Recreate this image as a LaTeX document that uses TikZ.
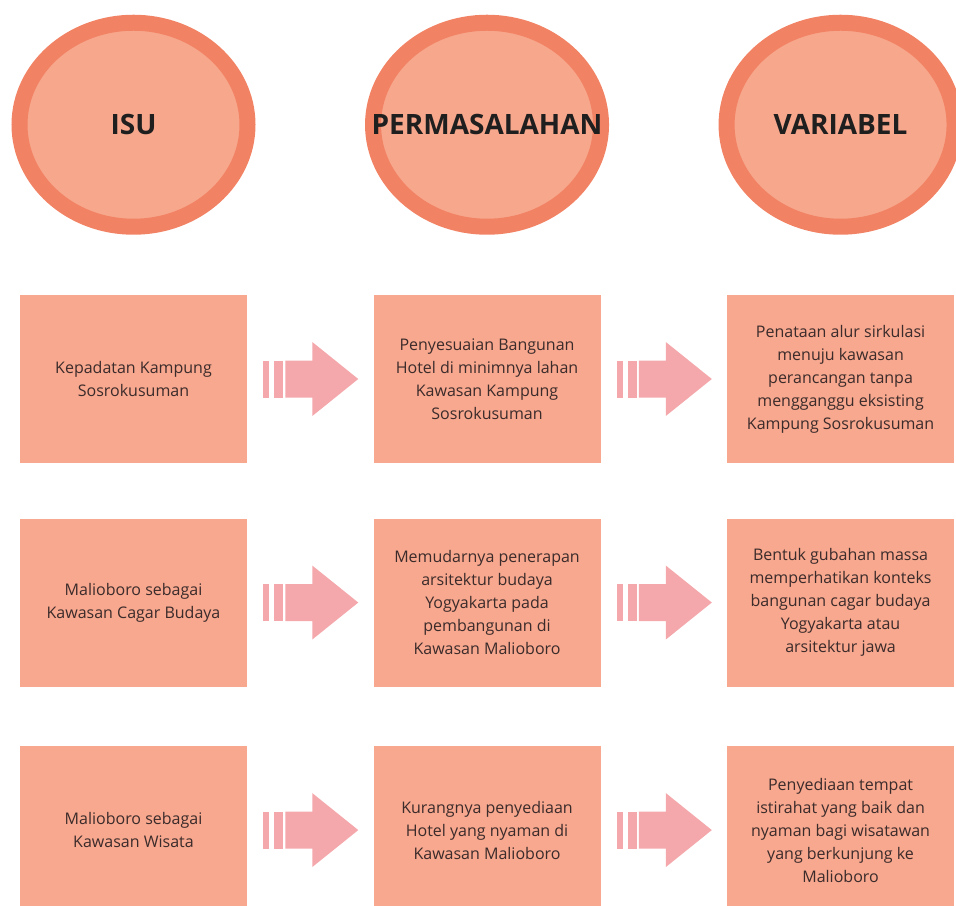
\documentclass[tikz,border=0pt]{standalone}
\usepackage{fontspec}
\setmainfont{Open Sans}
\usepackage{tikz}
\usetikzlibrary{shapes.geometric, positioning}

\definecolor{ringc}{HTML}{F28264}
\definecolor{innerc}{HTML}{F7A78C}
\definecolor{boxc}{HTML}{F7A88E}
\definecolor{arrowc}{HTML}{F4A8AB}
\definecolor{textc}{HTML}{3B2B2B}

\begin{document}
\begin{tikzpicture}[
    x=0.75pt, y=0.75pt,
    node distance=94.5pt,
    circ/.style={ellipse, draw=ringc, line width=12pt, fill=innerc, minimum width=171pt, minimum height=153pt, inner sep=0pt},
    title/.style={font=\fontsize{21}{25}\selectfont\bfseries, text=black!88, inner sep=0pt},
    block/.style={rectangle, fill=boxc, minimum width=170.25pt, minimum height=126pt, inner sep=0pt, align=center, text=textc, font=\fontsize{12}{17.25}\selectfont},
    flow/.style={fill=arrowc},
]
    \useasboundingbox (0,0) rectangle (956,-906);

    \node[block] (isu1) at (133.5,-379) {Kepadatan Kampung\\Sosrokusuman};
    \node[block, right=of isu1] (perm1) {Penyesuaian Bangunan\\Hotel di minimnya lahan\\Kawasan Kampung\\Sosrokusuman};
    \node[block, right=of perm1] (var1) {Penataan alur sirkulasi\\menuju kawasan\\perancangan tanpa\\mengganggu eksisting\\Kampung Sosrokusuman};

    \node[block, below=41.25pt of isu1] (isu2) {Malioboro sebagai\\Kawasan Cagar Budaya};
    \node[block, right=of isu2] (perm2) {Memudarnya penerapan\\arsitektur budaya\\Yogyakarta pada\\pembangunan di\\Kawasan Malioboro};
    \node[block, right=of perm2] (var2) {Bentuk gubahan massa\\memperhatikan konteks\\bangunan cagar budaya\\Yogyakarta atau\\arsitektur jawa};

    \node[block, below=44.25pt of isu2] (isu3) {Malioboro sebagai\\Kawasan Wisata};
    \node[block, right=of isu3] (perm3) {Kurangnya penyediaan\\Hotel yang nyaman di\\Kawasan Malioboro};
    \node[block, right=of perm3] (var3) {Penyediaan tempat\\istirahat yang baik dan\\nyaman bagi wisatawan\\yang berkunjung ke\\Malioboro};

    \node[circ, above=45pt of isu1, label={[title]center:ISU}] (cisu) {};
    \node[circ, above=45pt of perm1, label={[title]center:PERMASALAHAN}] (cperm) {};
    \node[circ, above=45pt of var1, label={[title]center:VARIABEL}] (cvar) {};

    \foreach \a in {isu1,perm1,isu2,perm2,isu3,perm3} {
        \begin{scope}[shift={(\a.east)}]
            \fill[flow] (16,-18.5) rectangle (22,18.5);
            \fill[flow] (27,-18.5) rectangle (36,18.5);
            \fill[flow] (38,18.5) -- (65,18.5) -- (65,37) -- (111,0) -- (65,-37) -- (65,-18.5) -- (38,-18.5) -- cycle;
        \end{scope}
    }
\end{tikzpicture}
\end{document}
